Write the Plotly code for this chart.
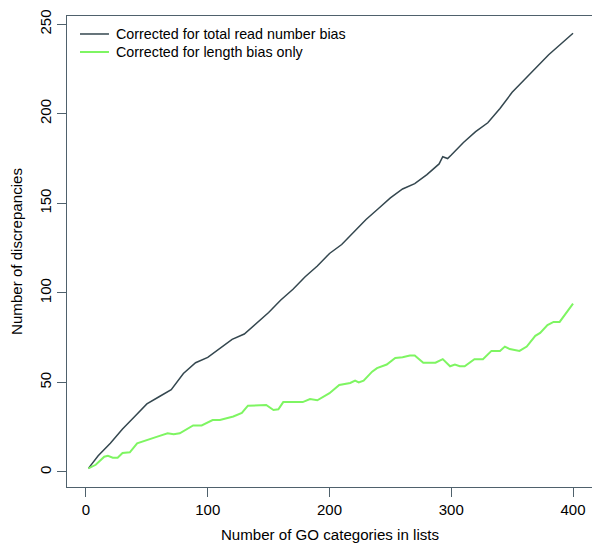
import plotly.graph_objects as go

# Corrected for total read number bias
dark_x = [2, 10, 20, 30, 40, 50, 60, 70, 80, 90, 100, 110, 120, 130, 140, 150, 160, 170, 180, 190,
          200, 210, 220, 230, 240, 250, 260, 270, 280, 290, 293, 297, 300, 310, 320, 330, 340, 350,
          360, 370, 380, 390, 400]
dark_y = [2, 9, 16, 24, 31, 38, 42, 46, 55, 61, 64, 69, 74, 77, 83, 89, 96, 102, 109, 115,
          122, 127, 134, 141, 147, 153, 158, 161, 166, 172, 176, 175, 177, 184, 190, 195, 203, 212,
          219, 226, 233, 239, 245]

# Corrected for length bias only
green_x = [2, 8, 15, 18, 22, 26, 30, 36, 42, 50, 58, 67, 72, 77, 88, 95, 104, 110, 121, 128, 133,
           148, 154, 158, 162, 178, 184, 190, 200, 208, 217, 221, 224, 228, 235, 239, 247, 254, 260,
           266, 270, 277, 287, 293, 299, 303, 307, 311, 319, 326, 333, 340, 344, 348, 356, 362, 369,
           373, 379, 384, 389, 400]
green_y = [2, 4, 8.5, 9, 8, 8, 10.6, 11, 16, 18, 19.6, 21.6, 21, 21.6, 26, 26, 29, 29, 31, 33, 37,
           37.4, 34.6, 35, 39, 39, 40.7, 40, 44, 48.6, 49.7, 51, 50, 51, 56, 58, 60, 63.6, 64,
           65, 65, 61, 61, 63, 59, 60, 59, 59, 63, 63, 67.6, 67.6, 70, 68.6, 67.6, 70, 76,
           77.6, 82, 83.8, 83.8, 94]

series_names = ["Corrected for total read number bias", "Corrected for length bias only"]
series_colors = ["#34474f", "#7ef562"]
series_widths = [1.5, 2]

x_ticks = [0, 100, 200, 300, 400]
y_ticks = [0, 50, 100, 150, 200, 250]

axis_col = "#4f616c"
font_fam = "Liberation Sans, Arial, sans-serif"

fig = go.Figure()
for xs, ys, nm, col, w in zip([dark_x, green_x], [dark_y, green_y], series_names, series_colors, series_widths):
    fig.add_trace(go.Scatter(x=xs, y=ys, mode="lines", name=nm, showlegend=False,
                             line=dict(color=col, width=w)))

# legend drawn in paper coordinates (R-style, no box)
legend_rows = [0.9618, 0.9236]
for yy, nm, col, w in zip(legend_rows, series_names, series_colors, series_widths):
    fig.add_shape(type="line", xref="paper", yref="paper", x0=0.0247, x1=0.0798, y0=yy, y1=yy,
                  line=dict(color=col, width=w))
    fig.add_annotation(xref="paper", yref="paper", x=0.0894, y=yy, text=nm, showarrow=False,
                       xanchor="left", yanchor="middle", font=dict(size=14.3, color="black"))

fig.update_layout(
    width=592, height=539,
    margin=dict(l=59, r=7, t=8, b=60),
    paper_bgcolor="white", plot_bgcolor="white",
    font=dict(family=font_fam, size=15, color="black"),
    showlegend=False,
    xaxis=dict(range=[-15.6, 416.4], tickmode="array", tickvals=x_ticks, showgrid=False, zeroline=False,
               showline=True, linecolor=axis_col, linewidth=1.3, mirror=True, automargin=False,
               ticks="outside", ticklen=9, tickcolor=axis_col, tickwidth=1.3, tickfont=dict(size=15),
               title=dict(text="Number of GO categories in lists", standoff=12, font=dict(size=15.1))),
    yaxis=dict(range=[-8.4, 254.6], tickmode="array", tickvals=y_ticks, showgrid=False, zeroline=False,
               showline=True, linecolor=axis_col, linewidth=1.3, mirror=True, automargin=False,
               ticks="outside", ticklen=9, tickcolor=axis_col, tickwidth=1.3, tickangle=-90,
               tickfont=dict(size=15),
               title=dict(text="Number of discrepancies", standoff=12, font=dict(size=15.1))),
)

fig.write_html("out.html")
